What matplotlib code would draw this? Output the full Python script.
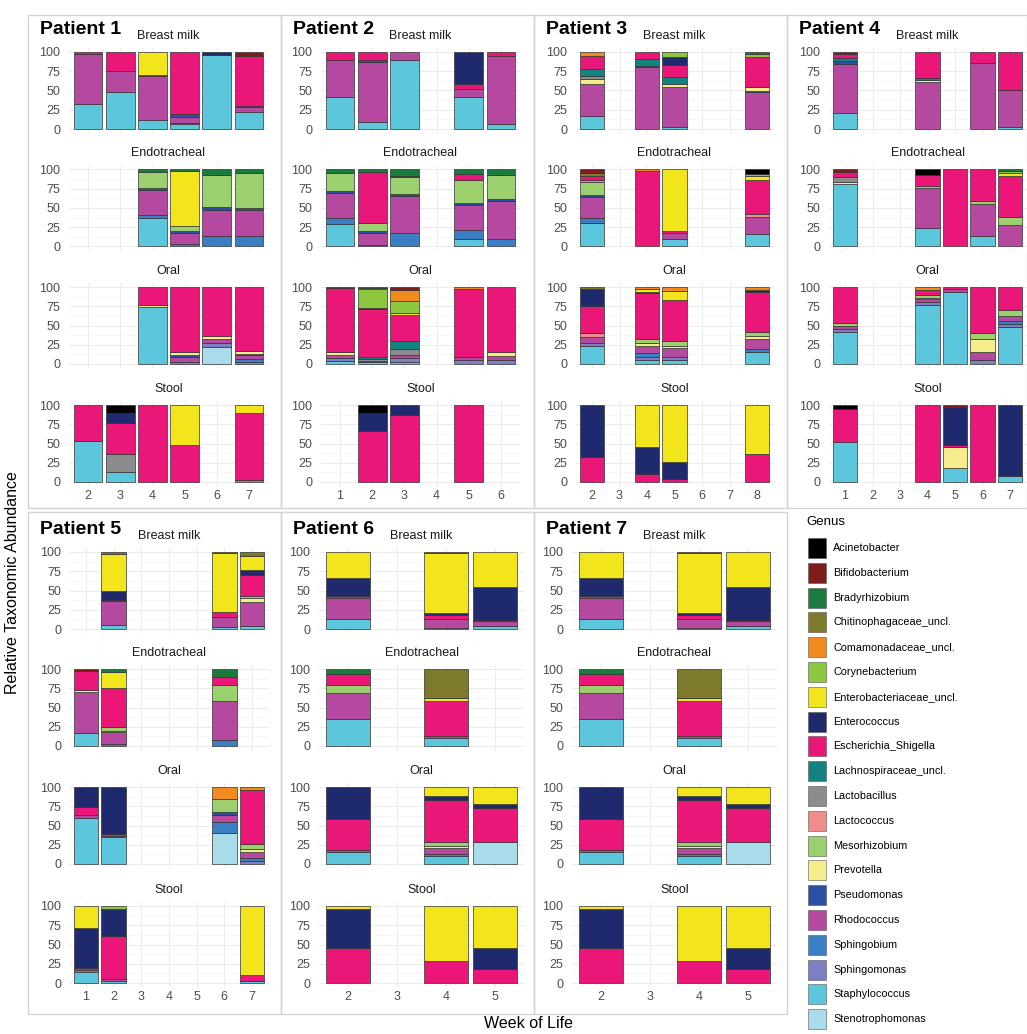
import matplotlib.pyplot as plt
from matplotlib.patches import Rectangle

plt.rcParams['font.family'] = ['Liberation Sans', 'DejaVu Sans']

W, H = 1027, 1034

genus_names = ['Acinetobacter', 'Bifidobacterium', 'Bradyrhizobium', 'Chitinophagaceae_uncl.',
               'Comamonadaceae_uncl.', 'Corynebacterium', 'Enterobacteriaceae_uncl.', 'Enterococcus',
               'Escherichia_Shigella', 'Lachnospiraceae_uncl.', 'Lactobacillus', 'Lactococcus',
               'Mesorhizobium', 'Prevotella', 'Pseudomonas', 'Rhodococcus', 'Sphingobium',
               'Sphingomonas', 'Staphylococcus', 'Stenotrophomonas']
genus_codes = ['AC', 'BI', 'BR', 'CH', 'CO', 'CY', 'EB', 'EC', 'ES', 'LA',
               'LB', 'LC', 'ME', 'PR', 'PS', 'RH', 'SB', 'SM', 'ST', 'SN']
genus_colors = ['#000000', '#7f1d1d', '#1b7a3e', '#7d7a2c', '#f28a1e', '#8dc63f', '#f2e51b', '#1f2a6e',
                '#ea1779', '#13837f', '#8c8c8c', '#f08c8c', '#9ccf6e', '#f5ec8b', '#2c4fa3', '#b5489f',
                '#3a7ec6', '#7c80c2', '#5cc7dc', '#a8dcea']

site_names = ['Breast milk', 'Endotracheal', 'Oral', 'Stool']

# relative abundance (%) per week, genus code -> value
p1_weeks = [2, 3, 4, 5, 6, 7]
p1_breast = {2: dict(ST=33, RH=65, ES=2),
             3: dict(ST=48, RH=27, ES=25),
             4: dict(ST=12, RH=57, ES=1, EB=30),
             5: dict(ST=6, SM=2, RH=8, PS=3, ES=81),
             6: dict(ST=96, EC=4),
             7: dict(ST=22, RH=6, PS=2, ES=65, BI=5)}
p1_endo = {4: dict(ST=37, SB=4, RH=33, PS=2, ME=21, BR=3),
           5: dict(SB=3, RH=15, PS=2, ME=6, EB=72, BR=2),
           6: dict(SB=13, RH=35, PS=3, ME=42, BR=7),
           7: dict(SB=13, RH=34, PS=3, ME=46, BR=4)}
p1_oral = {4: dict(ST=74, PR=3, ES=23),
           5: dict(SM=3, RH=6, PS=3, PR=4, ES=84),
           6: dict(SN=22, SM=5, RH=5, PR=5, ES=63),
           7: dict(SB=4, SM=3, RH=5, PS=1, PR=4, ES=83)}
p1_stool = {2: dict(ST=53, ES=47),
            3: dict(ST=13, LB=24, ES=40, EC=13, AC=10),
            4: dict(ES=100),
            5: dict(ES=48, EB=52),
            7: dict(LB=3, ES=86, EB=11)}

p2_weeks = [1, 2, 3, 4, 5, 6]
p2_breast = {1: dict(ST=42, RH=47, ES=11),
             2: dict(ST=9, RH=78, PS=2, ES=11),
             3: dict(ST=89, RH=11),
             5: dict(ST=41, RH=11, ES=7, EC=41),
             6: dict(ST=6, RH=89, ES=5)}
p2_endo = {1: dict(ST=29, SB=8, RH=33, PS=2, ME=24, BR=4),
           2: dict(SB=2, RH=16, PS=2, ME=10, ES=67, BR=3),
           3: dict(SB=17, RH=49, PS=2, ME=22, ES=2, BR=8),
           5: dict(ST=10, SB=12, RH=32, PS=2, ME=30, ES=8, BR=6),
           6: dict(SB=10, RH=49, PS=3, ME=31, BR=7)}
p2_oral = {1: dict(ST=4, SM=4, RH=4, PR=4, ES=83, BI=1),
           2: dict(ST=2, SM=2, LB=3, LA=2, ES=63, EC=1, CY=25, CO=1, BR=1),
           3: dict(ST=3, SM=5, RH=4, LB=8, LA=10, ES=34, EB=2, CY=16, CO=14, BI=4),
           5: dict(SM=5, RH=4, ES=88, CO=3),
           6: dict(SM=5, RH=6, PR=5, ES=84)}
p2_stool = {2: dict(ES=66, EC=24, AC=10),
            3: dict(ES=87, EC=13),
            5: dict(ES=100)}

p3_weeks = [2, 3, 4, 5, 6, 7, 8]
p3_breast = {2: dict(ST=17, RH=41, PR=7, LB=4, LA=9, ES=17, CO=5),
             4: dict(RH=80, PS=2, LA=9, ES=9),
             5: dict(ST=3, RH=51, PR=5, LA=9, ES=15, EC=10, CY=7),
             8: dict(RH=48, PS=2, PR=5, ES=38, CY=5, BR=2)}
p3_endo = {2: dict(ST=31, SB=6, RH=27, PS=3, ME=17, LC=3, ES=4, CH=4, BI=5),
           4: dict(ES=98, CO=2),
           5: dict(ST=10, RH=8, ES=2, EB=80),
           8: dict(ST=16, RH=22, LC=4, ES=44, EB=5, CY=3, AC=6)}
p3_oral = {2: dict(ST=23, SM=4, RH=8, LC=5, ES=35, EC=22, CH=3),
           4: dict(ST=5, SB=5, SM=4, RH=10, PR=3, ME=6, ES=59, EC=2, EB=3, CO=3),
           5: dict(ST=5, SM=4, RH=12, PR=3, ME=6, ES=53, EB=12, CO=5),
           8: dict(ST=16, SB=3, RH=14, PR=3, ME=5, ES=53, EC=2, CO=4)}
p3_stool = {2: dict(ES=33, EC=67),
            4: dict(ES=10, EC=36, EB=54),
            5: dict(ES=4, EC=22, EB=74),
            8: dict(ES=37, EB=63)}

p4_weeks = [1, 2, 3, 4, 5, 6, 7]
p4_breast = {1: dict(ST=21, RH=63, PS=4, LA=4, ES=6, BI=2),
             4: dict(RH=61, PR=2, LA=3, ES=34),
             6: dict(RH=86, ES=14),
             7: dict(ST=2, RH=49, ES=49)}
p4_endo = {1: dict(ST=81, PR=3, LB=6, ES=7, BI=3),
           4: dict(ST=24, RH=52, ME=3, ES=14, AC=7),
           5: dict(ES=100),
           6: dict(ST=14, RH=41, ME=4, ES=41),
           7: dict(RH=28, ME=10, ES=53, EB=4, CY=3, BR=2)}
p4_oral = {1: dict(ST=42, SM=4, RH=4, ME=3, ES=47),
           4: dict(ST=76, SM=4, RH=4, PR=2, ME=3, ES=7, CO=4),
           5: dict(ST=94, RH=3, ES=3),
           6: dict(SM=5, RH=11, PR=16, ME=8, ES=60),
           7: dict(ST=48, SM=4, SB=4, RH=6, ME=8, ES=30)}
p4_stool = {1: dict(ST=52, ES=43, AC=5),
            4: dict(ES=100),
            5: dict(ST=18, PR=27, ES=3, EC=49, BI=3),
            6: dict(ES=100),
            7: dict(ST=8, EC=92)}

p5_weeks = [1, 2, 3, 4, 5, 6, 7]
p5_breast = {2: dict(ST=5, RH=32, ES=1, EC=12, EB=47, CH=3),
             6: dict(ST=2, RH=13, ES=7, EB=77, CH=1),
             7: dict(ST=4, RH=31, PR=5, ME=3, ES=27, EC=7, EB=18, CH=5)}
p5_endo = {1: dict(ST=17, RH=53, PR=3, ES=24, BI=3),
           2: dict(SB=3, RH=15, PR=2, ME=5, ES=50, EB=21, BR=4),
           6: dict(SB=8, RH=50, ME=21, ES=11, BR=10)}
p5_oral = {1: dict(ST=60, RH=4, ES=10, EC=26),
           2: dict(ST=35, RH=2, ES=2, EC=61),
           6: dict(SN=40, SB=15, RH=9, PS=3, ME=18, CO=15),
           7: dict(SM=4, SB=4, RH=7, PR=4, ME=7, ES=70, CO=4)}
p5_stool = {1: dict(ST=14, SM=3, ES=3, EC=51, EB=29),
            2: dict(ST=3, RH=2, ES=56, EC=35, CY=4),
            7: dict(ST=2, RH=1, ES=8, EB=89)}

p6_weeks = [2, 3, 4, 5]
p6_breast = {2: dict(ST=13, RH=27, ES=3, EC=23, EB=34),
             4: dict(ST=1, RH=12, ES=5, EC=3, EB=78, CH=1),
             5: dict(ST=4, RH=6, ES=2, EC=42, EB=46)}
p6_endo = {2: dict(ST=35, RH=34, ME=10, ES=15, BR=6),
           4: dict(ST=11, RH=2, ES=46, EB=3, CH=38)}
p6_oral = {2: dict(ST=15, RH=3, ES=40, EC=42),
           4: dict(ST=10, SB=3, RH=8, PR=3, ME=4, ES=55, EC=5, EB=12),
           5: dict(SN=28, ES=45, EC=5, EB=22)}
p6_stool = {2: dict(ES=45, EC=51, EB=4),
            4: dict(ES=29, EB=71),
            5: dict(ES=18, EC=28, EB=54)}

p7_weeks = [2, 3, 4, 5]
p7_breast = {2: dict(ST=13, RH=27, ES=3, EC=23, EB=34),
             4: dict(ST=1, RH=12, ES=5, EC=3, EB=78, CH=1),
             5: dict(ST=4, RH=6, ES=2, EC=42, EB=46)}
p7_endo = {2: dict(ST=35, RH=34, ME=10, ES=15, BR=6),
           4: dict(ST=11, RH=2, ES=46, EB=3, CH=38)}
p7_oral = {2: dict(ST=15, RH=3, ES=40, EC=42),
           4: dict(ST=10, SB=3, RH=8, PR=3, ME=4, ES=55, EC=5, EB=12),
           5: dict(SN=28, ES=45, EC=5, EB=22)}
p7_stool = {2: dict(ES=45, EC=51, EB=4),
            4: dict(ES=29, EB=71),
            5: dict(ES=18, EC=28, EB=54)}

patients = [
    ('Patient 1', p1_weeks, [p1_breast, p1_endo, p1_oral, p1_stool]),
    ('Patient 2', p2_weeks, [p2_breast, p2_endo, p2_oral, p2_stool]),
    ('Patient 3', p3_weeks, [p3_breast, p3_endo, p3_oral, p3_stool]),
    ('Patient 4', p4_weeks, [p4_breast, p4_endo, p4_oral, p4_stool]),
    ('Patient 5', p5_weeks, [p5_breast, p5_endo, p5_oral, p5_stool]),
    ('Patient 6', p6_weeks, [p6_breast, p6_endo, p6_oral, p6_stool]),
    ('Patient 7', p7_weeks, [p7_breast, p7_endo, p7_oral, p7_stool]),
]

# layout in pixels: frame box, first/last category centre, row
frames = [(28, 15, 281, 508), (281, 15, 534, 508), (534, 15, 787, 508), (787, 15, 1027, 508),
          (28, 512, 281, 1014), (281, 512, 534, 1014), (534, 512, 787, 1014)]
xcent = [(88, 249), (340, 501), (592, 757), (845, 1010), (86, 252), (348, 495), (601, 748)]
row_y100 = [[52, 169.5, 287, 405], [552, 669, 787, 906]]
facet_h = 77

fig = plt.figure(figsize=(W / 100, H / 100), dpi=100)
fig.patch.set_facecolor('white')

ov = fig.add_axes([0, 0, 1, 1])
ov.set_xlim(0, W)
ov.set_ylim(H, 0)
ov.axis('off')


def px_axes(x0, x1, yt, yb):
    return fig.add_axes([x0 / W, 1 - yb / H, (x1 - x0) / W, (yb - yt) / H])


stack_order = list(range(len(genus_codes)))[::-1]  # Stenotrophomonas at bottom

for p, (title, weeks, sites) in enumerate(patients):
    fx0, fy0, fx1, fy1 = frames[p]
    ov.add_patch(Rectangle((fx0, fy0), fx1 - fx0, fy1 - fy0, fill=False,
                           edgecolor='#d4d4d4', lw=1.0))
    row = 0 if p < 4 else 1
    n = len(weeks)
    first, last = xcent[p]
    sp = (last - first) / (n - 1)
    ax0 = first - 0.6 * sp
    ax1 = last + 0.6 * sp
    ov.text(fx0 + 12, row_y100[row][0] - 22, title, fontsize=14, fontweight='bold',
            ha='left', va='center', color='black')
    for s, site in enumerate(sites):
        y100 = row_y100[row][s]
        unit = facet_h / 100
        ax = px_axes(ax0, ax1, y100 - 5 * unit, y100 + 105 * unit)
        ax.set_facecolor('white')
        ax.set_xlim(-0.6, n - 0.4)
        ax.set_ylim(-5, 105)
        ax.set_yticks([0, 25, 50, 75, 100])
        ax.set_yticks([12.5, 37.5, 62.5, 87.5], minor=True)
        ax.set_xticks(range(n))
        ax.grid(which='major', color='#ebebeb', lw=0.7)
        ax.grid(which='minor', axis='y', color='#f3f3f3', lw=0.5)
        ax.set_axisbelow(True)
        for sp_name in ax.spines:
            ax.spines[sp_name].set_visible(False)
        ax.tick_params(which='both', length=0, labelsize=9, colors='#4d4d4d', pad=6)
        ax.tick_params(axis='x', pad=3)
        if s == 3:
            ax.set_xticklabels([str(w) for w in weeks])
        else:
            ax.set_xticklabels([])
        for i, w in enumerate(weeks):
            if w not in site:
                continue
            bar = site[w]
            bottom = 0
            for g in stack_order:
                code = genus_codes[g]
                if code not in bar:
                    continue
                v = bar[code]
                ax.bar(i, v, bottom=bottom, width=0.9, color=genus_colors[g],
                       edgecolor='#333333', linewidth=0.5)
                bottom += v
        ov.text((ax0 + ax1) / 2, y100 - 16, site_names[s], fontsize=9, ha='center',
                va='center', color='#1a1a1a')

ov.text(13, 583, 'Relative Taxonomic Abundance', rotation=90, fontsize=11.5,
        ha='center', va='center', color='black')
ov.text(528, 1024, 'Week of Life', fontsize=11.5, ha='center', va='center', color='black')

# legend
ov.text(806, 522, 'Genus', fontsize=9.5, ha='left', va='center', color='black')
for k, name in enumerate(genus_names):
    yc = 548 + k * 24.8
    ov.add_patch(Rectangle((808, yc - 10), 18, 20, facecolor=genus_colors[k],
                           edgecolor='#555555', lw=0.4))
    ov.text(833, yc, name, fontsize=7.8, ha='left', va='center', color='black')

fig.savefig('out.png', dpi=100, facecolor='white')
